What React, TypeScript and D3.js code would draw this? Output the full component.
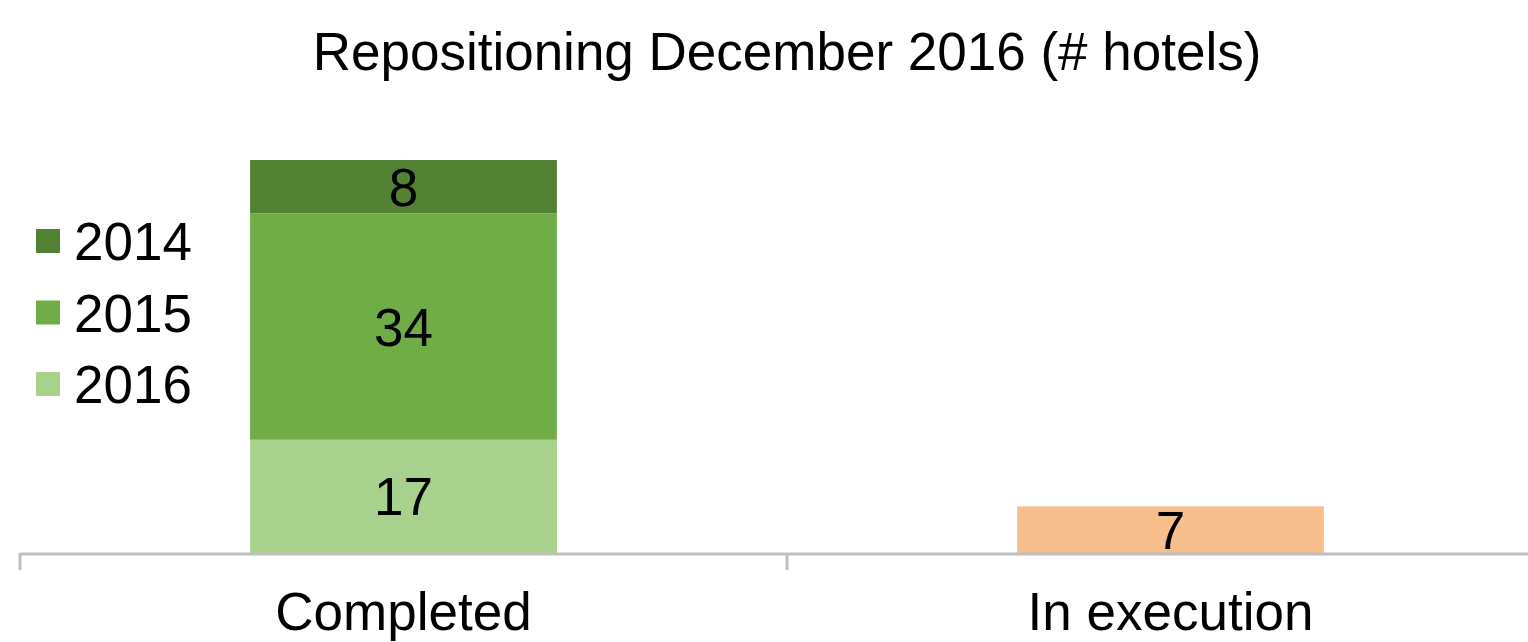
import React, { useEffect } from "react";
import * as d3 from "d3";

const categories = ["Completed", "In execution"];
const years = ["2014", "2015", "2016"];
// stacked values (bottom to top: 2016, 2015, 2014) and the in-execution bar
const completed2016 = [17, 0];
const completed2015 = [34, 0];
const completed2014 = [8, 0];
const inExecution = [0, 7];
const title = "Repositioning December 2016 (# hotels)";

const colors: Record<string, string> = {
  "2014": "#548235",
  "2015": "#70AD47",
  "2016": "#A9D18E",
  exec: "#F8BF8E",
};

const W = 1528;
const H = 642;
const FONT = "'Liberation Sans', Arial, Helvetica, sans-serif";

export default function App() {
  useEffect(() => {
    document.body.style.margin = "0";
  }, []);

  const x = d3.scaleBand<string>().domain(categories).range([20, 1554]).paddingInner(0).paddingOuter(0);
  const y = d3.scaleLinear().domain([0, 59]).range([553, 160]);
  const barW = x.bandwidth() * 0.4;

  type Seg = { cat: string; y0: number; y1: number; value: number; color: string };
  const segs: Seg[] = [];
  categories.forEach((c, i) => {
    let acc = 0;
    const parts: [number, string][] = [
      [completed2016[i], colors["2016"]],
      [completed2015[i], colors["2015"]],
      [completed2014[i], colors["2014"]],
      [inExecution[i], colors.exec],
    ];
    parts.forEach(([v, col]) => {
      if (v > 0) {
        segs.push({ cat: c, y0: acc, y1: acc + v, value: v, color: col });
        acc += v;
      }
    });
  });

  const tickXs = [20, 787, 1554];

  return (
    <svg width={W} height={H} style={{ display: "block", background: "#fff" }} fontFamily={FONT}>
      <text x={787} y={70} textAnchor="middle" fontSize={53} fill="#000">
        {title}
      </text>
      {segs.map((s, i) => {
        const cx = (x(s.cat) as number) + x.bandwidth() / 2;
        const top = y(s.y1);
        const bot = y(s.y0);
        return (
          <g key={i}>
            <rect x={cx - barW / 2} y={top} width={barW} height={bot - top} fill={s.color} />
            <text x={cx} y={(top + bot) / 2 + 19} textAnchor="middle" fontSize={53} fill="#000">
              {s.value}
            </text>
          </g>
        );
      })}
      <line x1={20} x2={1554} y1={y(0) + 1} y2={y(0) + 1} stroke="#bfbfbf" strokeWidth={3} />
      {tickXs.map((t, i) => (
        <line key={i} x1={t} x2={t} y1={y(0)} y2={y(0) + 17} stroke="#bfbfbf" strokeWidth={3} />
      ))}
      {categories.map((c) => (
        <text key={c} x={(x(c) as number) + x.bandwidth() / 2} y={630} textAnchor="middle" fontSize={53} fill="#000">
          {c}
        </text>
      ))}
      {years.map((yr, i) => (
        <g key={yr} transform={`translate(36, ${260 + i * 71.5})`}>
          <rect x={0} y={-31} width={24} height={24} fill={colors[yr]} />
          <text x={38} y={0} fontSize={53} fill="#000">
            {yr}
          </text>
        </g>
      ))}
    </svg>
  );
}
